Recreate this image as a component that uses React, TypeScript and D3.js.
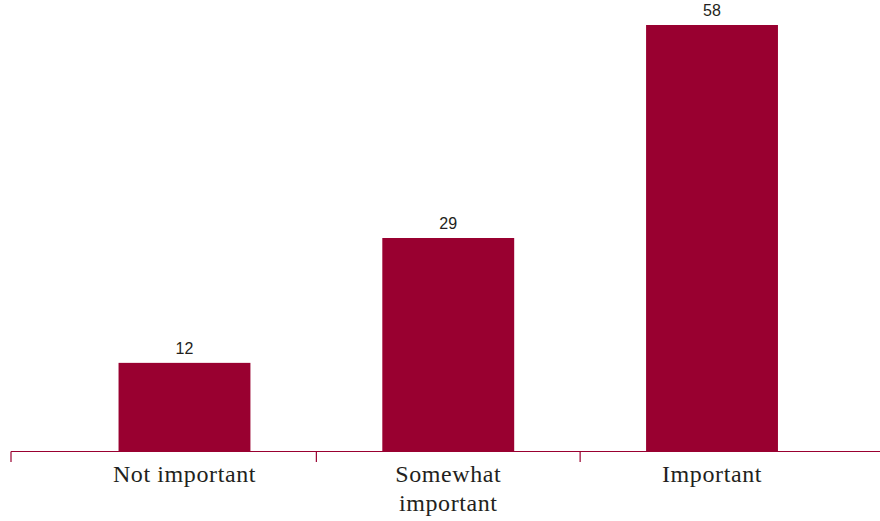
import React from "react";
import * as d3 from "d3";

const categories: string[][] = [["Not important"], ["Somewhat", "important"], ["Important"]];
const categoryKeys = ["Not important", "Somewhat important", "Important"];
const values = [12, 29, 58];

const W = 880;
const H = 521;
const COLOR = "#990030";
const TEXT = "#231f20";

export default function App() {
  const x = d3
    .scaleBand<string>()
    .domain(categoryKeys)
    .range([52.6, 843.9])
    .paddingInner(0.5)
    .paddingOuter(0.25);
  const y = d3.scaleLinear().domain([0, 58]).range([451, 25]);
  const baseY = 451.5;
  const step = x.step();
  const bw = x.bandwidth();
  const ticks = [11, ...categoryKeys.slice(0, -1).map((k) => (x(k) as number) + bw + (step - bw) / 2)];

  return (
    <svg
      width={W}
      height={H}
      style={{ position: "absolute", left: 0, top: 0, display: "block" }}
    >
      <rect width={W} height={H} fill="#ffffff" />
      {categoryKeys.map((k, i) => (
        <rect
          key={k}
          x={x(k)}
          y={y(values[i])}
          width={bw}
          height={baseY - y(values[i])}
          fill={COLOR}
        />
      ))}
      <line x1={11} x2={W} y1={baseY} y2={baseY} stroke={COLOR} strokeWidth={1.2} />
      {ticks.map((t, i) => (
        <line key={i} x1={t} x2={t} y1={baseY} y2={462} stroke={COLOR} strokeWidth={1.2} />
      ))}
      {categoryKeys.map((k, i) => (
        <text
          key={"v" + k}
          x={(x(k) as number) + bw / 2}
          y={y(values[i]) - 9}
          textAnchor="middle"
          fontFamily="Liberation Sans, Arial, sans-serif"
          fontSize={16}
          fill={TEXT}
        >
          {values[i]}
        </text>
      ))}
      {categoryKeys.map((k, i) => (
        <text
          key={"c" + k}
          x={(x(k) as number) + bw / 2}
          y={482}
          textAnchor="middle"
          fontFamily="Liberation Serif, Times New Roman, serif"
          fontSize={24}
          letterSpacing={0.6}
          fill={TEXT}
        >
          {categories[i].map((line, j) => (
            <tspan key={j} x={(x(k) as number) + bw / 2} dy={j === 0 ? 0 : 29}>
              {line}
            </tspan>
          ))}
        </text>
      ))}
    </svg>
  );
}
